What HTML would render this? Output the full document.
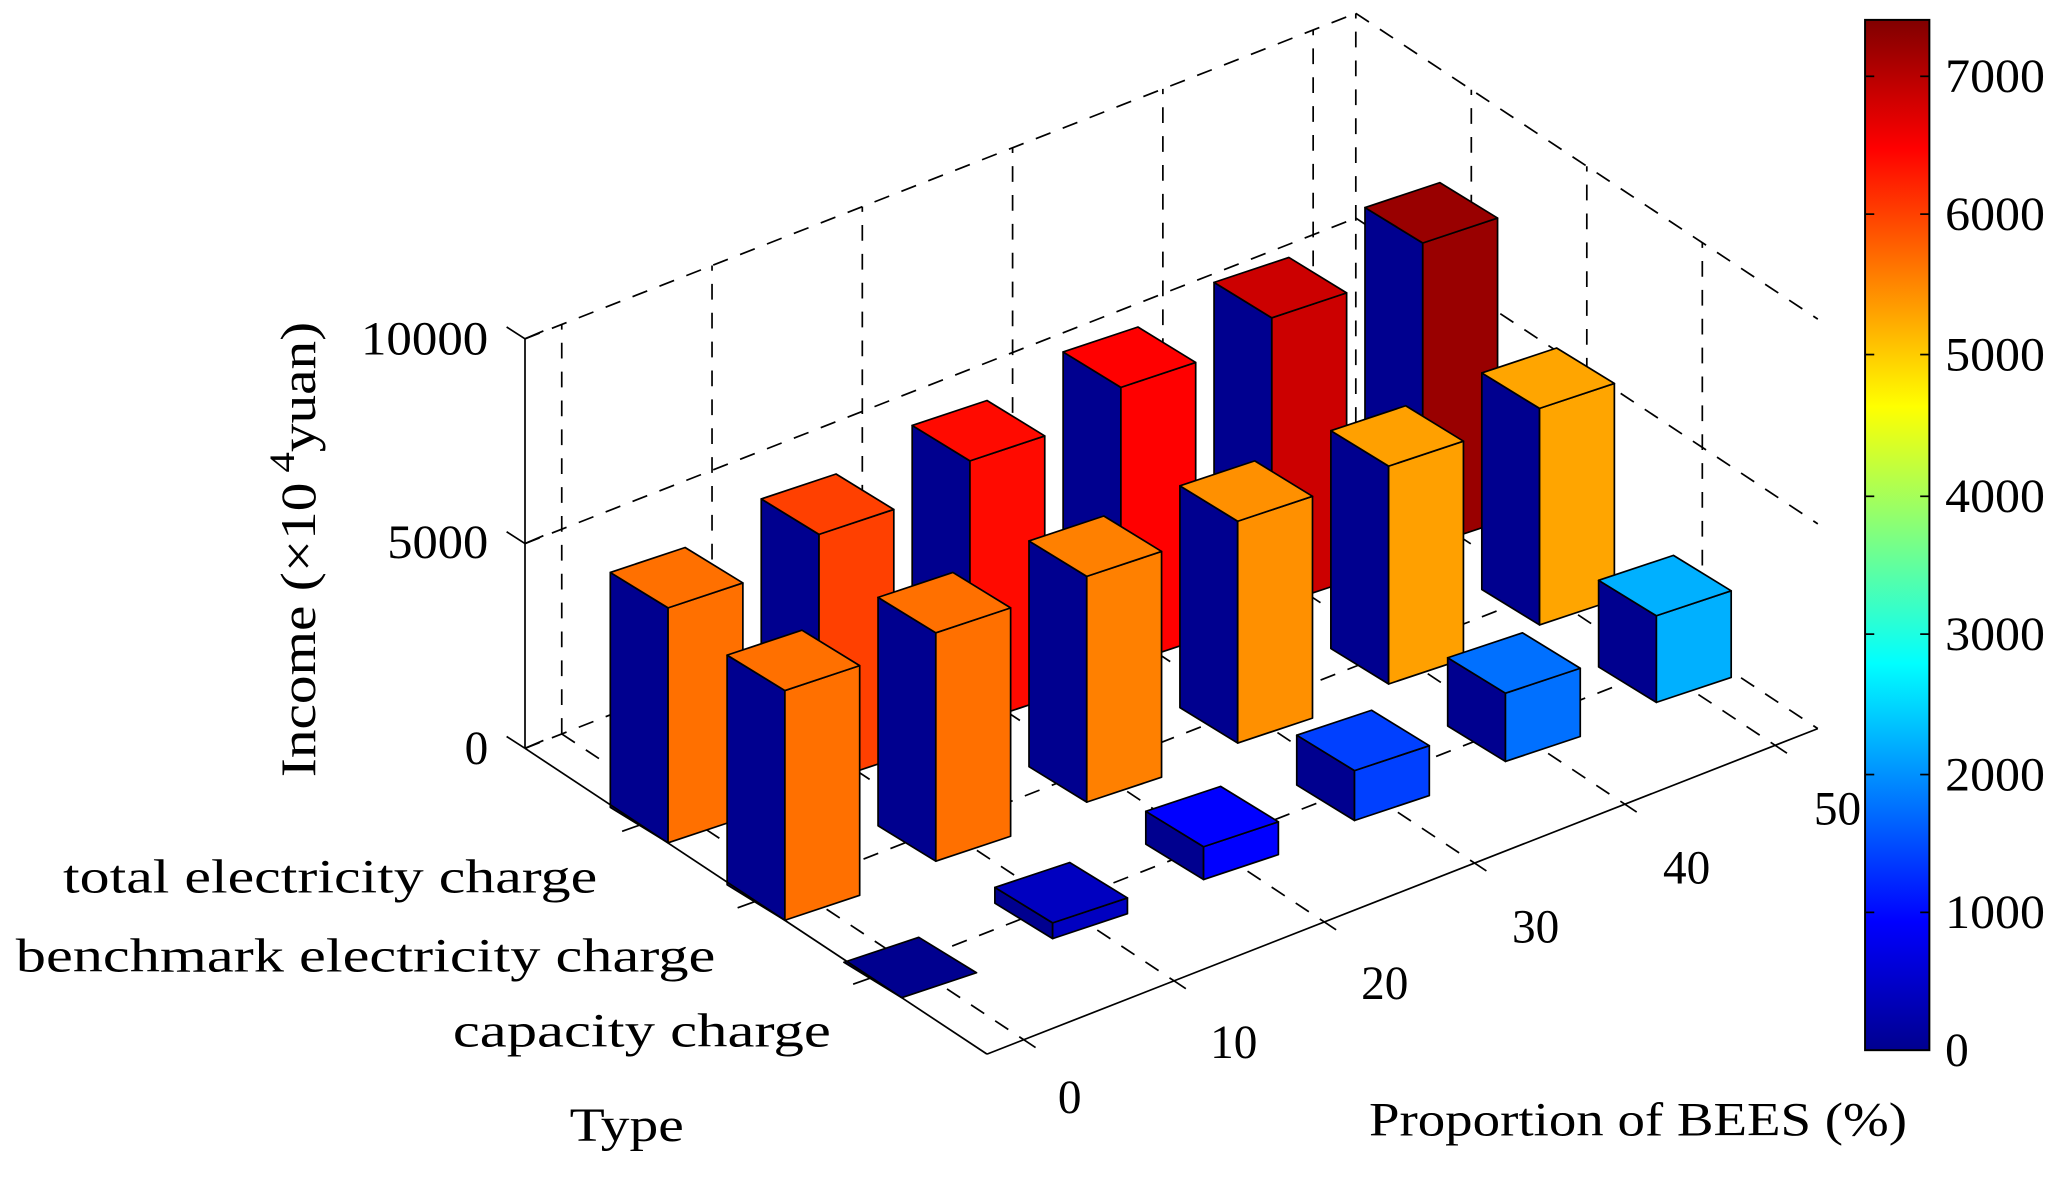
<!DOCTYPE html>
<html><head><meta charset="utf-8"><style>
html,body{margin:0;padding:0;background:#fff}
svg{display:block}
text{font-family:"Liberation Serif",serif;fill:#000}
</style></head><body>
<svg id="s" width="2058" height="1179" viewBox="0 0 1568 898" xmlns="http://www.w3.org/2000/svg">
<defs>
<linearGradient id="jet" x1="0" y1="1" x2="0" y2="0">
<stop offset="0" stop-color="#00008f"/>
<stop offset="0.125" stop-color="#0000ff"/>
<stop offset="0.375" stop-color="#00ffff"/>
<stop offset="0.625" stop-color="#ffff00"/>
<stop offset="0.875" stop-color="#ff0000"/>
<stop offset="1" stop-color="#800000"/>
</linearGradient>
</defs>
<g id="grid" stroke="#000" stroke-width="1.3" fill="none"></g>
<g id="bars" stroke="#000" stroke-width="1.3" stroke-linejoin="round"></g>
<g id="axes" stroke="#000" stroke-width="1.3" fill="none"></g>
<g font-size="36">
<text x="275" y="270" textLength="97" lengthAdjust="spacingAndGlyphs">10000</text>
<text x="295" y="425" textLength="77" lengthAdjust="spacingAndGlyphs">5000</text>
<text x="372" y="582" text-anchor="end">0</text>
<text x="48" y="680" textLength="407" lengthAdjust="spacingAndGlyphs">total electricity charge</text>
<text x="12" y="740" textLength="533" lengthAdjust="spacingAndGlyphs">benchmark electricity charge</text>
<text x="345" y="797" textLength="288" lengthAdjust="spacingAndGlyphs">capacity charge</text>
<text x="815" y="848" text-anchor="middle">0</text>
<text x="940" y="806" text-anchor="middle">10</text>
<text x="1055" y="761" text-anchor="middle">20</text>
<text x="1170" y="718" text-anchor="middle">30</text>
<text x="1285" y="673" text-anchor="middle">40</text>
<text x="1400" y="628" text-anchor="middle">50</text>
<text x="434" y="869" textLength="87" lengthAdjust="spacingAndGlyphs">Type</text>
<text x="1043" y="865" textLength="410" lengthAdjust="spacingAndGlyphs">Proportion of BEES (%)</text>
<text transform="translate(240,592) rotate(-90)" font-size="38" textLength="347" lengthAdjust="spacingAndGlyphs">Income (×10<tspan font-size="27" dy="-16"> 4</tspan><tspan dy="16">yuan)</tspan></text>
<text x="1482" y="812">0</text>
<text x="1482" y="707" textLength="76" lengthAdjust="spacingAndGlyphs">1000</text>
<text x="1482" y="602" textLength="76" lengthAdjust="spacingAndGlyphs">2000</text>
<text x="1482" y="495" textLength="76" lengthAdjust="spacingAndGlyphs">3000</text>
<text x="1482" y="390" textLength="76" lengthAdjust="spacingAndGlyphs">4000</text>
<text x="1482" y="282" textLength="76" lengthAdjust="spacingAndGlyphs">5000</text>
<text x="1482" y="175" textLength="76" lengthAdjust="spacingAndGlyphs">6000</text>
<text x="1482" y="70" textLength="76" lengthAdjust="spacingAndGlyphs">7000</text>
</g>
<rect x="1421" y="15" width="49" height="785" fill="url(#jet)" stroke="#000" stroke-width="1.5"/>
<g stroke="#000" stroke-width="1.3">
<line x1="1421" y1="695" x2="1428" y2="695"/><line x1="1463" y1="695" x2="1470" y2="695"/>
<line x1="1421" y1="590" x2="1428" y2="590"/><line x1="1463" y1="590" x2="1470" y2="590"/>
<line x1="1421" y1="483" x2="1428" y2="483"/><line x1="1463" y1="483" x2="1470" y2="483"/>
<line x1="1421" y1="378" x2="1428" y2="378"/><line x1="1463" y1="378" x2="1470" y2="378"/>
<line x1="1421" y1="270" x2="1428" y2="270"/><line x1="1463" y1="270" x2="1470" y2="270"/>
<line x1="1421" y1="163" x2="1428" y2="163"/><line x1="1463" y1="163" x2="1470" y2="163"/>
<line x1="1421" y1="58" x2="1428" y2="58"/><line x1="1463" y1="58" x2="1470" y2="58"/>
</g>
</svg>
<script>
var NS="http://www.w3.org/2000/svg";
function el(p,t,a){var e=document.createElementNS(NS,t);for(var k in a)e.setAttribute(k,a[k]);p.appendChild(e);return e;}
var G=document.getElementById('grid'),B=document.getElementById('bars'),AX=document.getElementById('axes');
var A=[400,570],Bp=[752,803],C=[1385,555],D=[1033,322];
var TV=[352,233],PV=[633,-248];var H=312;
function ln(g,p,q,d){var a={x1:p[0],y1:p[1],x2:q[0],y2:q[1]};if(d)a['stroke-dasharray']='12,10';el(g,'line',a);}
function add(p,q){return [p[0]+q[0],p[1]+q[1]];}
function up(p,h){return [p[0],p[1]-h];}
[0,156,312].forEach(function(h){ln(G,up(A,h),up(D,h),1);ln(G,up(D,h),up(C,h),1);});
ln(G,D,up(D,H),1);
for(var i=0;i<6;i++){var f=(28+114.5*i)/633;var P=[A[0]+PV[0]*f,A[1]+PV[1]*f];
 ln(G,P,up(P,H),1);ln(G,P,add(P,TV),1);
 var Q=add(P,TV);ln(AX,Q,[Q[0]+9,Q[1]+6]);}
for(var k=1;k<=3;k++){var f=k/4;var Q=[A[0]+TV[0]*f,A[1]+TV[1]*f];
 ln(G,Q,add(Q,PV),1);var R=add(D,[TV[0]*f,TV[1]*f]);ln(G,R,up(R,H),1);
 ln(AX,Q,[Q[0]-14,Q[1]+5]);}
ln(AX,A,Bp);ln(AX,Bp,C);ln(AX,A,up(A,H));
[0,156,312].forEach(function(h){var p=up(A,h);ln(AX,p,[p[0]-14,p[1]-9]);ln(AX,p,[p[0]+14,p[1]-6]);});
var L=[-44,-27],R=[57,-19];
var rows=[
 {F:[509,642],h:[179,190,201,212,220,232],c:['#ff7000','#ff4000','#ff0a00','#ff0000','#cc0000','#990000']},
 {F:[598,701],h:[175,174,172,169,166,165],c:['#ff7000','#ff7000','#ff8000','#ff9000','#ffa000','#ffa500']},
 {F:[687,760],h:[0,12,25,38,52,66],c:['#00008f','#0000c0','#0000ff','#0040ff','#0070ff','#00b0ff']}];
function poly(pts,fill){el(B,'polygon',{points:pts.map(function(p){return p[0]+','+p[1]}).join(' '),fill:fill});}
rows.forEach(function(r){for(var i=5;i>=0;i--){var F=[r.F[0]+115*i,r.F[1]-45*i],h=r.h[i];
 var Lb=add(F,L),Rb=add(F,R),Ft=up(F,h),Lt=up(Lb,h),Rt=up(Rb,h),Bt=add(Lt,R);
 if(h>0){poly([Lb,F,Ft,Lt],'#00008f');poly([F,Rb,Rt,Ft],r.c[i]);}
 poly([Ft,Lt,Bt,Rt],r.c[i]);}});
</script>
</body></html>
